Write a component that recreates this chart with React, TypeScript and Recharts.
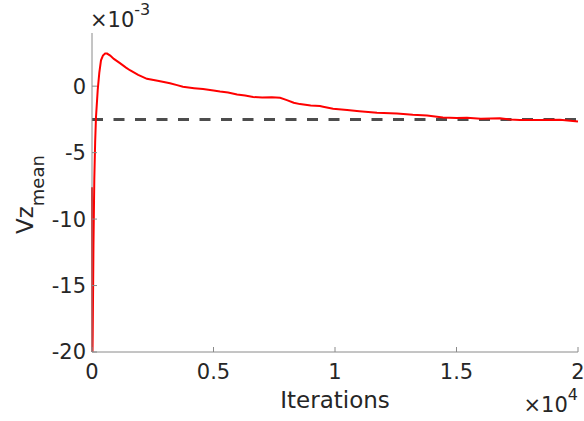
import React from 'react';
import { LineChart, Line, XAxis, YAxis, ReferenceLine, Label } from 'recharts';

// iterations and mean vz (in units of 1e-3)
const iterations = [
  0, 15, 30, 60, 95, 130, 165, 235, 300, 370, 450, 540, 620, 750, 900, 1150, 1400, 1560, 1900,
  2260, 2700, 3210, 3500, 3740, 4200, 4570, 5000, 5270, 5600, 5970, 6300, 6630, 7000, 7400, 7740,
  8020, 8300, 8560, 9000, 9380, 9510, 9920, 10500, 11000, 11730, 12550, 13200, 13790, 14440,
  15000, 15430, 16000, 16790, 17200, 17610, 18440, 19260, 20000,
];
const vzMean = [
  -7.6, -21, -18.6, -12, -7.0, -4.2, -2.3, -0.3, 1.0, 1.95, 2.3, 2.45, 2.45, 2.3, 2.05, 1.73, 1.4,
  1.2, 0.85, 0.55, 0.4, 0.22, 0.08, -0.05, -0.15, -0.22, -0.33, -0.4, -0.47, -0.62, -0.7, -0.82,
  -0.85, -0.84, -0.88, -1.05, -1.25, -1.35, -1.45, -1.5, -1.55, -1.7, -1.8, -1.88, -2.0, -2.05,
  -2.15, -2.2, -2.35, -2.4, -2.37, -2.45, -2.42, -2.5, -2.55, -2.55, -2.52, -2.65,
];
const targetVz = -2.5;
const xTicks = [0, 5000, 10000, 15000, 20000];
const yTicks = [-20, -15, -10, -5, 0];

const data = iterations.map((it, i) => ({ it, vz: vzMean[i] }));

const FONT = 'DejaVu Sans';
const INK = '#262626';
const AXIS = '#8a8a8a';

export default function App() {
  return (
    <div style={{ position: 'absolute', left: 0, top: 0, width: 584, height: 421, background: '#fff' }}>
      <LineChart
        width={584}
        height={421}
        data={data}
        margin={{ top: 33, right: 6, bottom: 29, left: 32 }}
        style={{ fontFamily: FONT }}
      >
        <XAxis
          dataKey="it"
          type="number"
          domain={[0, 20000]}
          ticks={xTicks}
          tickFormatter={(v: number) => String(v / 10000)}
          height={40}
          stroke={AXIS}
          tickSize={-5}
          tickMargin={17}
          tick={{ fontSize: 21, fill: INK, fontFamily: FONT }}
        >
          <Label
            content={({ viewBox }: any) => (
              <text
                x={viewBox.x + viewBox.width / 2}
                y={408}
                textAnchor="middle"
                fontSize={23}
                fill={INK}
                fontFamily={FONT}
              >
                Iterations
              </text>
            )}
          />
          <Label
            content={({ viewBox }: any) => (
              <text x={viewBox.x + viewBox.width} y={412} textAnchor="end" fontSize={21} fill={INK} fontFamily={FONT}>
                ×10
                <tspan dy={-12} fontSize={16}>4</tspan>
              </text>
            )}
          />
        </XAxis>
        <YAxis
          dataKey="vz"
          type="number"
          domain={[-20, 4]}
          allowDataOverflow
          ticks={yTicks}
          width={60}
          stroke={AXIS}
          tickSize={-5}
          tickMargin={11}
          tick={{ fontSize: 21, fill: INK, fontFamily: FONT }}
        >
          <Label
            content={() => (
              <text
                x={33}
                y={234}
                transform="rotate(-90, 33, 234)"
                textAnchor="start"
                fontSize={23}
                fill={INK}
                fontFamily={FONT}
              >
                Vz
                <tspan dy={11} fontSize={18}>mean</tspan>
              </text>
            )}
          />
          <Label
            content={({ viewBox }: any) => (
              <text x={viewBox.x + viewBox.width - 2} y={27} textAnchor="start" fontSize={21} fill={INK} fontFamily={FONT}>
                ×10
                <tspan dy={-12} fontSize={16}>-3</tspan>
              </text>
            )}
          />
        </YAxis>
        <ReferenceLine y={targetVz} stroke="#4d4d4d" strokeWidth={3} strokeDasharray="11 10.5" />
        <Line
          type="linear"
          dataKey="vz"
          stroke="#ff0000"
          strokeWidth={2}
          dot={false}
          activeDot={false}
          isAnimationActive={false}
        />
      </LineChart>
    </div>
  );
}
